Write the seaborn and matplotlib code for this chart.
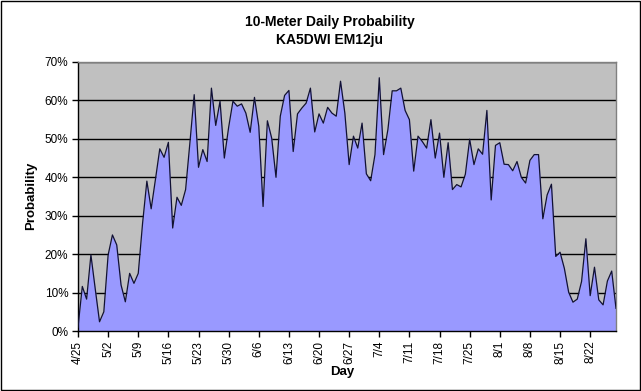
import numpy as np
import pandas as pd
import seaborn as sns
import matplotlib.pyplot as plt
from matplotlib.patches import Rectangle

# daily probability (%), 4/25 .. 8/28
prob = [1, 11.6, 8.3, 19.8, 11, 2.4, 5, 19.8, 25, 22.4,
        12, 7.6, 15, 12.4, 15, 28, 39, 31.8, 39.5, 47.4,
        45.2, 49.1, 26.8, 34.8, 32.7, 36.8, 49, 61.5, 42.6, 47.2,
        44.1, 63.2, 53.5, 59.8, 45, 53, 59.8, 58.5, 59.1, 56.7,
        51.7, 60.8, 53.3, 32.4, 54.7, 50.2, 40, 55.9, 61.3, 62.6,
        46.7, 56.5, 58, 59.3, 63.2, 51.8, 56.5, 54.1, 58.2, 56.7,
        55.9, 65, 56.7, 43.3, 50.7, 47.6, 54.1, 40.9, 39.1, 45.9,
        65.9, 45.9, 52.4, 62.5, 62.5, 63.2, 57.4, 55, 41.6, 50.7,
        49.3, 47.6, 55, 45, 51.5, 40, 49, 36.8, 38.1, 37.5,
        40.8, 49.9, 43.3, 47.4, 46, 57.4, 34.1, 48.3, 49, 43.4,
        43.3, 41.7, 44.1, 40, 38.5, 44.4, 45.9, 45.9, 29.2, 35.4,
        38.2, 19.4, 20.5, 16.3, 10.1, 7.5, 8.3, 12.9, 24, 9.2,
        16.6, 8.1, 6.8, 13, 15.6, 5.9]
dates = pd.date_range("2004-04-25", periods=len(prob), freq="D")
y_ticks = [0, 10, 20, 30, 40, 50, 60, 70]

df = pd.DataFrame({"day": np.arange(len(prob)), "prob": prob})

plt.rcParams['font.family'] = ['Liberation Sans', 'DejaVu Sans']

fig = plt.figure(figsize=(6.41, 3.91), dpi=100)
ax = fig.add_axes([78 / 641, 60 / 391, 538 / 641, 269 / 391])
ax.set_facecolor("#C0C0C0")

ax.fill_between(df["day"], df["prob"], color="#9999FF", lw=0, zorder=2)
sns.lineplot(data=df, x="day", y="prob", color="#111133", lw=0.9, ax=ax, zorder=3)

ax.set_xlim(0, len(prob) - 1)
ax.set_ylim(0, 70)
ax.set_yticks(y_ticks)
ax.set_yticklabels([f"{v}%" for v in y_ticks], fontsize=8.5)
tick_pos = list(range(0, len(prob), 7))
ax.set_xticks(tick_pos)
ax.set_xticklabels([f"{dates[i].month}/{dates[i].day}" for i in tick_pos],
                   rotation=90, fontsize=8.5)
ax.yaxis.grid(True, color="black", lw=1)
ax.xaxis.grid(False)
ax.set_axisbelow(True)
ax.tick_params(direction="out", length=4, width=1, color="black", pad=3)

for s in ["left", "bottom"]:
    ax.spines[s].set_color("black")
    ax.spines[s].set_linewidth(1)
for s in ["top", "right"]:
    ax.spines[s].set_color("#808080")
    ax.spines[s].set_linewidth(1)

ax.set_xlabel("")
ax.set_ylabel("")
fig.text(330 / 641, 1 - 22 / 391, "10-Meter Daily Probability", ha="center", va="center",
         fontsize=10, fontweight="bold")
fig.text(330 / 641, 1 - 40 / 391, "KA5DWI EM12ju", ha="center", va="center",
         fontsize=10, fontweight="bold")
fig.text(31 / 641, 1 - 196 / 391, "Probability", rotation=90, ha="center", va="center",
         fontsize=9.5, fontweight="bold")
fig.text(342 / 641, 1 - 372 / 391, "Day", ha="center", va="center",
         fontsize=9.5, fontweight="bold")

fig.patches.append(Rectangle((0.0015, 0.0025), 0.997, 0.995, transform=fig.transFigure,
                             fill=False, edgecolor="black", lw=1))

fig.savefig("out.png", dpi=100)
